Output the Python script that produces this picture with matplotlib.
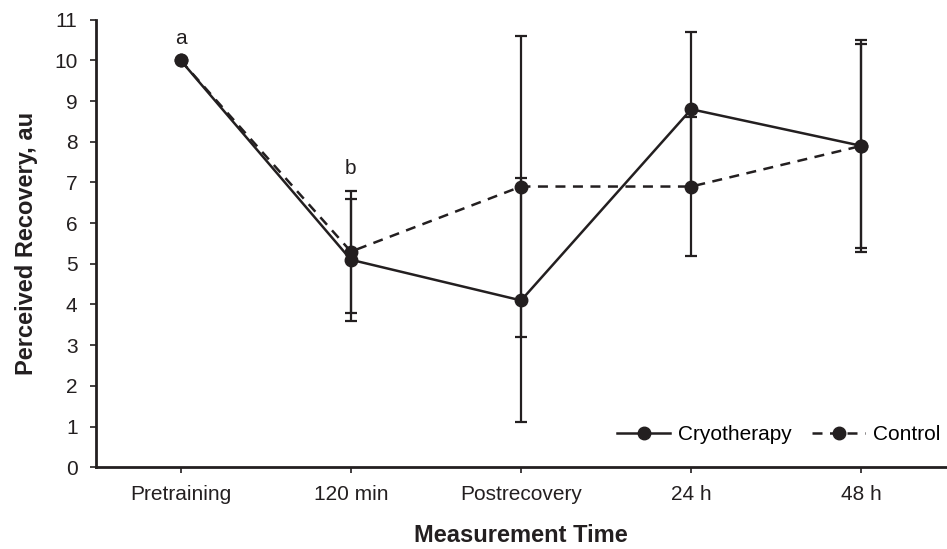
import numpy as np
import matplotlib
matplotlib.use('Agg')
import matplotlib.pyplot as plt

plt.rcParams['font.family'] = ['Liberation Sans', 'DejaVu Sans']

times = ['Pretraining', '120 min', 'Postrecovery', '24 h', '48 h']
cryo = [10.0, 5.1, 4.1, 8.8, 7.9]
cryo_err = [0.0, 1.5, 3.0, 1.9, 2.6]
control = [10.0, 5.3, 6.9, 6.9, 7.9]
control_err = [0.0, 1.5, 3.7, 1.7, 2.5]
letters = ['a', 'b']
letter_y = [10.3, 7.1]

x = np.arange(len(times))

fig = plt.figure(figsize=(9.47, 5.49), dpi=100)
ax = fig.add_axes([0.101, 0.149, 0.8985, 0.815])

c1 = ax.errorbar(x, cryo, yerr=cryo_err, color='#231f20', lw=1.8, marker='o', ms=9,
                 capsize=4, elinewidth=1.6, capthick=1.6, label='Cryotherapy')
c2 = ax.errorbar(x, control, yerr=control_err, color='#231f20', lw=1.8, ls=(0, (4, 3)),
                 marker='o', ms=9, capsize=4, elinewidth=1.6, capthick=1.6, label='Control')

for i, t in enumerate(letters):
    ax.text(x[i], letter_y[i], t, ha='center', va='bottom', fontsize=15, color='#231f20')

ax.set_xlim(-0.5, 4.5)
ax.set_ylim(0, 11)
ax.set_yticks(range(0, 12))
ax.set_xticks(x)
ax.set_xticklabels(times)
ax.tick_params(axis='both', labelsize=15, colors='#231f20', width=1.2, length=4)
ax.tick_params(axis='y', pad=9)
ax.tick_params(axis='x', pad=9)
for s in ['top', 'right']:
    ax.spines[s].set_visible(False)
for s in ['left', 'bottom']:
    ax.spines[s].set_linewidth(2)
    ax.spines[s].set_color('#231f20')

ax.set_xlabel('Measurement Time', fontsize=17, fontweight='bold', labelpad=14, color='#231f20')
ax.set_ylabel('Perceived Recovery, au', fontsize=17, fontweight='bold', labelpad=12, color='#231f20')

ax.legend([c1[0], c2[0]], ['Cryotherapy', 'Control'], loc='lower right', ncol=2,
          frameon=False, fontsize=15, handlelength=2.5, columnspacing=1.0,
          handletextpad=0.4, borderaxespad=0.0, borderpad=0.3,
          bbox_to_anchor=(1.0, 0.038))

fig.savefig('out.png', dpi=100)
